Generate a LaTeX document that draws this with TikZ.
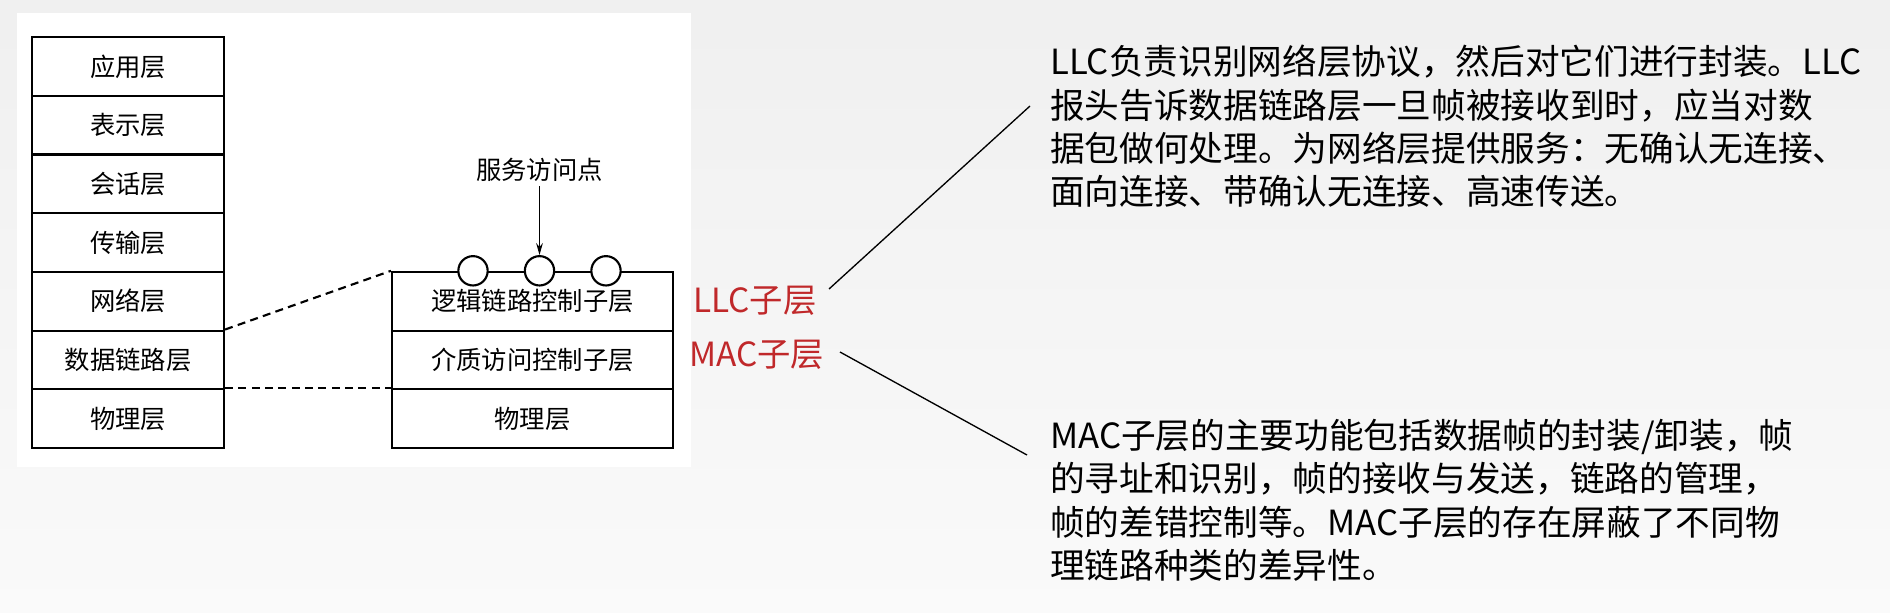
\documentclass[tikz,border=0pt]{standalone}
\usepackage{fontspec}
\setmainfont{Liberation Sans}
\newfontfamily\cjk{Noto Sans CJK SC}
\usetikzlibrary{arrows.meta}
\definecolor{llcred}{HTML}{C0282A}
\begin{document}
\begin{tikzpicture}[x=0.75pt,y=-0.75pt,
  layer/.style={draw,line width=1.6pt,minimum width=192*0.75pt,minimum height=58.7*0.75pt,inner sep=0pt,font=\cjk\fontsize{19}{22}\selectfont,anchor=north west},
  sublayer/.style={layer,minimum width=281*0.75pt},
  sap/.style={circle,draw,line width=1.6pt,fill=white,minimum size=22pt,inner sep=0pt},
  redlbl/.style={text=llcred,font=\cjk\fontsize{25}{28}\selectfont,anchor=west,inner sep=0pt},
  desc/.style={font=\cjk\fontsize{26}{32.5}\selectfont,anchor=north west,align=left,inner sep=0pt}]
\useasboundingbox (0,0) rectangle (1890,612);
\shade[top color=black!6,bottom color=black!2] (0,0) rectangle (1890,612);
\fill[white] (17,13) rectangle (691,467);
% left stack
\node[layer] (a1) at (31,36) {应用层};
\node[layer] (a2) at (31,94.7) {表示层};
\node[layer] (a3) at (31,153.4) {会话层};
\node[layer] (a4) at (31,212.1) {传输层};
\node[layer] (a5) at (31,270.8) {网络层};
\node[layer] (a6) at (31,329.5) {数据链路层};
\node[layer] (a7) at (31,388.2) {物理层};
% right stack
\node[sublayer] (b1) at (391,270.8) {逻辑链路控制子层};
\node[sublayer] (b2) at (391,329.5) {介质访问控制子层};
\node[sublayer] (b3) at (391,388.2) {物理层};
\node[sap] (c1) at (473,270.8) {};
\node[sap] (c2) at (539.5,270.8) {};
\node[sap] (c3) at (606,270.8) {};
\node[font=\cjk\fontsize{19}{22}\selectfont] (sap) at (539.5,170) {服务访问点};
\draw[-{Stealth[length=9pt,width=5pt]},line width=1pt] (sap.south) -- (c2.north);
\draw[line width=1.6pt,dash pattern=on 6pt off 4pt] (a6.north east) -- (b1.north west);
\draw[line width=1.6pt,dash pattern=on 6pt off 4pt] (a7.north east) -- (b3.north west);
% red labels
\node[redlbl] (llc) at (693,301) {LLC子层};
\node[redlbl] (mac) at (689,355) {MAC子层};
% descriptions
\node[desc] (d1) at (1050,45) {LLC负责识别网络层协议，然后对它们进行封装。LLC\\报头告诉数据链路层一旦帧被接收到时，应当对数\\据包做何处理。为网络层提供服务：无确认无连接、\\面向连接、带确认无连接、高速传送。};
\node[desc] (d2) at (1050,419) {MAC子层的主要功能包括数据帧的封装/卸装，帧\\的寻址和识别，帧的接收与发送，链路的管理，\\帧的差错控制等。MAC子层的存在屏蔽了不同物\\理链路种类的差异性。};
\coordinate (l1) at (829,289);
\coordinate (l2) at (1030,106);
\coordinate (m1) at (840,352);
\coordinate (m2) at (1027,455);
\draw[line width=1pt] (l1) -- (l2);
\draw[line width=1pt] (m1) -- (m2);
\end{tikzpicture}
\end{document}
